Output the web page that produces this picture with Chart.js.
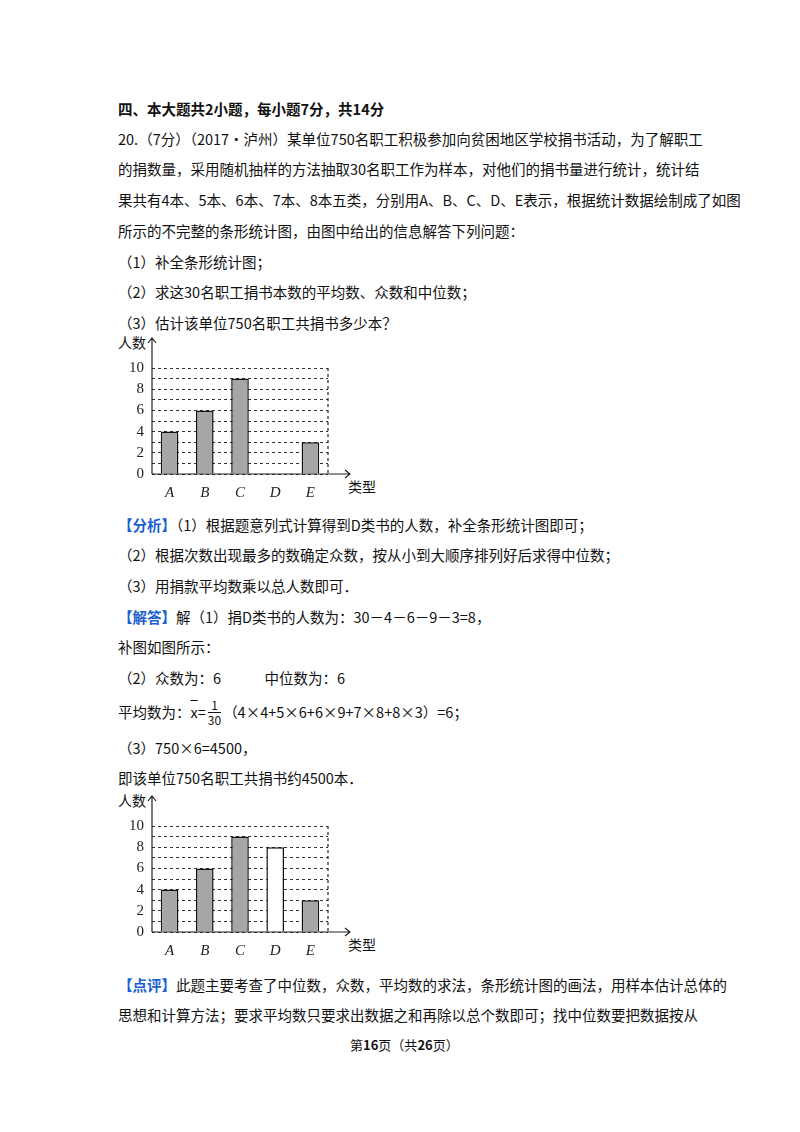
<!DOCTYPE html>
<html><head><meta charset="utf-8">
<script src="https://cdn.jsdelivr.net/npm/chart.js@4"></script>
<style>
body{margin:0;width:800px;height:1132px;background:#fff;position:relative;font-family:"Noto Sans CJK SC",sans-serif;color:#111;font-size:14.5px}
.t{position:absolute;left:118px;white-space:nowrap;line-height:20px}
.c{position:absolute;left:110px;width:260px;height:170px}
.lab{position:absolute;font-size:14px}
b.blue{color:#1a5fd0}
.frac{display:inline-block;vertical-align:middle;text-align:center;line-height:14px;font-size:12px;margin:0 2px;position:relative;top:-2px}
</style></head><body>
<div class="t" style="top:99px;font-weight:bold">四、本大题共2小题，每小题7分，共14分</div>
<div class="t" style="top:129px">20.（7分）（2017•泸州）某单位750名职工积极参加向贫困地区学校捐书活动，为了解职工</div>
<div class="t" style="top:159px">的捐数量，采用随机抽样的方法抽取30名职工作为样本，对他们的捐书量进行统计，统计结</div>
<div class="t" style="top:190px">果共有4本、5本、6本、7本、8本五类，分别用A、B、C、D、E表示，根据统计数据绘制成了如图</div>
<div class="t" style="top:221px">所示的不完整的条形统计图，由图中给出的信息解答下列问题：</div>
<div class="t" style="top:252px">（1）补全条形统计图；</div>
<div class="t" style="top:282px">（2）求这30名职工捐书本数的平均数、众数和中位数；</div>
<div class="t" style="top:313px">（3）估计该单位750名职工共捐书多少本？</div>

<div class="lab" style="left:118px;top:332px">人数</div>
<div class="lab" style="left:348px;top:476px">类型</div>
<div class="c" style="top:335px"><canvas id="c1"></canvas></div>

<div class="t" style="top:515px"><b class="blue">【分析】</b>（1）根据题意列式计算得到D类书的人数，补全条形统计图即可；</div>
<div class="t" style="top:545px">（2）根据次数出现最多的数确定众数，按从小到大顺序排列好后求得中位数；</div>
<div class="t" style="top:576px">（3）用捐款平均数乘以总人数即可．</div>
<div class="t" style="top:607px"><b class="blue">【解答】</b>解（1）捐D类书的人数为：30－4－6－9－3=8，</div>
<div class="t" style="top:637px">补图如图所示：</div>
<div class="t" style="top:668px">（2）众数为：6　　　中位数为：6</div>
<div class="t" style="top:700px">平均数为：<span style="text-decoration:overline">x</span>=<span class="frac"><span style="display:block;border-bottom:1px solid #111">1</span><span style="display:block">30</span></span>（4×4+5×6+6×9+7×8+8×3）=6；</div>
<div class="t" style="top:738px">（3）750×6=4500，</div>
<div class="t" style="top:768px">即该单位750名职工共捐书约4500本．</div>

<div class="lab" style="left:118px;top:790px">人数</div>
<div class="lab" style="left:348px;top:934px">类型</div>
<div class="c" style="top:793px"><canvas id="c2"></canvas></div>

<div class="t" style="top:975px"><b class="blue">【点评】</b>此题主要考查了中位数，众数，平均数的求法，条形统计图的画法，用样本估计总体的</div>
<div class="t" style="top:1005px">思想和计算方法；要求平均数只要求出数据之和再除以总个数即可；找中位数要把数据按从</div>
<div class="t" style="top:1035px;left:350px;font-size:13px">第<b>16</b>页（共<b>26</b>页）</div>

<script>
var categories = ["A", "B", "C", "D", "E"];
var countsBefore = [4, 6, 9, 0, 3];
var countsAfter = [4, 6, 9, 8, 3];
var yTicks = [0, 2, 4, 6, 8, 10];

var axesPlugin = {
    id: 'axes',
    afterDraw: function(chart) {
        var ctx = chart.ctx, a = chart.chartArea;
        ctx.save();
        ctx.strokeStyle = '#222';
        ctx.lineWidth = 1.2;
        ctx.beginPath();
        ctx.moveTo(a.left, a.bottom); ctx.lineTo(a.left, a.top - 30);
        ctx.moveTo(a.left - 4, a.top - 25); ctx.lineTo(a.left, a.top - 30); ctx.lineTo(a.left + 4, a.top - 25);
        ctx.moveTo(a.left, a.bottom); ctx.lineTo(a.right + 22, a.bottom);
        ctx.moveTo(a.right + 17, a.bottom - 4); ctx.lineTo(a.right + 22, a.bottom); ctx.lineTo(a.right + 17, a.bottom + 4);
        ctx.stroke();
        ctx.setLineDash([3, 3]);
        ctx.beginPath();
        ctx.moveTo(a.right, a.top); ctx.lineTo(a.right, a.bottom);
        ctx.stroke();
        ctx.restore();
    }
};

function makeChart(id, data, colors) {
    return new Chart(document.getElementById(id), {
        type: 'bar',
        data: {
            labels: categories,
            datasets: [{
                data: data,
                backgroundColor: colors,
                borderColor: '#111',
                borderWidth: 1.5,
                barPercentage: 0.5,
                categoryPercentage: 1
            }]
        },
        options: {
            responsive: true,
            maintainAspectRatio: false,
            animation: false,
            layout: { padding: { top: 33, right: 42, bottom: 0, left: 0 } },
            plugins: { legend: { display: false }, tooltip: { enabled: false } },
            scales: {
                x: {
                    grid: { display: false },
                    border: { display: false },
                    afterFit: function(s) { s.height = 31; },
                    ticks: { color: '#222', padding: 2, font: { family: 'Liberation Serif', style: 'italic', size: 15 } }
                },
                y: {
                    min: 0, max: 10,
                    afterFit: function(s) { s.width = 42; },
                    border: { display: false, dash: [3, 3] },
                    grid: { color: '#333', lineWidth: 1, drawTicks: false },
                    ticks: {
                        stepSize: 1, padding: 8, color: '#222', autoSkip: false,
                        font: { family: 'Liberation Serif', size: 15 },
                        callback: function(v) { return yTicks.indexOf(v) >= 0 ? v : ''; }
                    }
                }
            }
        },
        plugins: [axesPlugin]
    });
}

window.onload = function() {
    makeChart('c1', countsBefore, '#a6a6a6');
    makeChart('c2', countsAfter, ['#a6a6a6', '#a6a6a6', '#a6a6a6', '#ffffff', '#a6a6a6']);
};
</script>
</body></html>
